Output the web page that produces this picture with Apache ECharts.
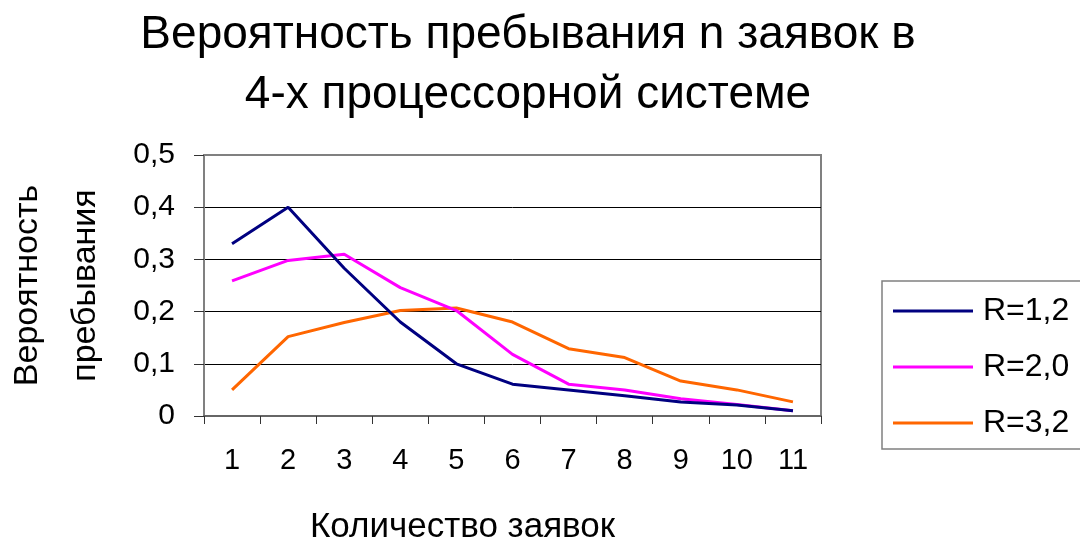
<!DOCTYPE html>
<html>
<head>
<meta charset="utf-8">
<script src="https://cdn.jsdelivr.net/npm/echarts@6/dist/echarts.min.js"></script>
<style>
html,body{margin:0;padding:0;background:#fff;}
#chart{width:1080px;height:544px;}
</style>
</head>
<body>
<div id="chart"></div>
<script>
const categories = ['1','2','3','4','5','6','7','8','9','10','11'];
const seriesNames = ['R=1,2','R=2,0','R=3,2'];
const r12 = [0.33, 0.40, 0.283, 0.18, 0.10, 0.061, 0.05, 0.039, 0.027, 0.021, 0.010];
const r20 = [0.259, 0.298, 0.31, 0.246, 0.202, 0.118, 0.061, 0.05, 0.033, 0.022, 0.010];
const r32 = [0.05, 0.152, 0.179, 0.202, 0.207, 0.18, 0.129, 0.112, 0.067, 0.05, 0.027];
const colors = ['#000080', '#FF00FF', '#FF6600'];
const titleText = 'Вероятность пребывания n заявок в\n4-х процессорной системе';
const xName = 'Количество заявок';
const yName = 'Вероятность\nпребывания';

const FONT = "'Liberation Sans', Arial, sans-serif";
const chart = echarts.init(document.getElementById('chart'));
const dataSets = [r12, r20, r32];
chart.setOption({
  backgroundColor: '#fff',
  animation: false,
  textStyle: { fontFamily: FONT, color: '#000' },
  title: {
    text: titleText,
    left: 528,
    top: 5,
    padding: 0,
    textAlign: 'center',
    textStyle: { fontFamily: FONT, fontSize: 46, fontWeight: 'normal', lineHeight: 60, color: '#000' }
  },
  legend: {
    orient: 'vertical',
    left: 882,
    top: 281,
    padding: [14, 30, 10, 11],
    icon: 'rect',
    itemWidth: 80,
    itemHeight: 3,
    itemGap: 24,
    borderColor: '#808080',
    borderWidth: 1.5,
    backgroundColor: '#fff',
    textStyle: { fontFamily: FONT, fontSize: 32, color: '#000', lineHeight: 32, padding: [0, 0, 0, 5] },
    data: seriesNames
  },
  grid: {
    left: 204, right: 259, top: 155, bottom: 128,
    containLabel: false,
    outerBoundsMode: 'none',
    show: true, borderColor: '#808080', borderWidth: 2, backgroundColor: 'transparent'
  },
  xAxis: {
    type: 'category',
    data: categories,
    boundaryGap: true,
    name: xName,
    nameLocation: 'middle',
    nameGap: 94,
    nameTextStyle: { fontFamily: FONT, fontSize: 35, color: '#000', padding: [0, 100, 0, 0] },
    axisLine: { show: true, lineStyle: { color: '#666', width: 2 } },
    axisTick: { show: true, alignWithLabel: false, length: 8, lineStyle: { color: '#333', width: 1 } },
    axisLabel: { fontFamily: FONT, fontSize: 29, color: '#000', margin: 30, interval: 0 },
    splitLine: { show: false }
  },
  yAxis: {
    type: 'value',
    min: 0, max: 0.5, interval: 0.1,
    name: yName,
    nameLocation: 'middle',
    nameRotate: 90,
    nameGap: 89,
    nameTextStyle: { fontFamily: FONT, fontSize: 34, color: '#000', lineHeight: 58 },
    axisLine: { show: true, lineStyle: { color: '#808080', width: 2 } },
    axisTick: { show: true, inside: false, length: 10, lineStyle: { color: '#333', width: 1 } },
    axisLabel: {
      fontFamily: FONT, fontSize: 30, color: '#000', margin: 29,
      formatter: v => String(+v.toFixed(1)).replace('.', ',')
    },
    splitLine: { show: true, showMinLine: false, showMaxLine: false, lineStyle: { color: '#000', width: 1 } }
  },
  series: seriesNames.map((n, i) => ({
    name: n,
    type: 'line',
    data: dataSets[i],
    symbol: 'none',
    color: colors[i],
    lineStyle: { color: colors[i], width: 3 },
    z: 3 - i
  }))
});
</script>
</body>
</html>
